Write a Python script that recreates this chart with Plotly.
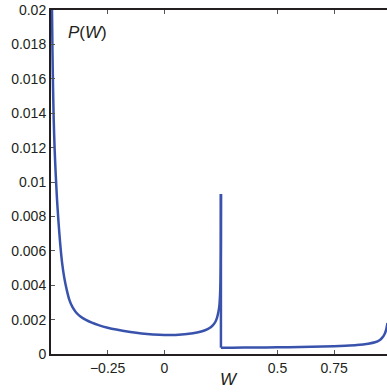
import plotly.graph_objects as go

# P(W) curve
W_vals = [-0.4956, -0.4935, -0.491, -0.488, -0.484, -0.479, -0.4735, -0.467, -0.460, -0.451,
          -0.441, -0.430, -0.419, -0.405, -0.39, -0.37, -0.346, -0.32, -0.29, -0.25,
          -0.212, -0.15, -0.10, -0.05, 0.0, 0.05, 0.10, 0.15, 0.18, 0.20, 0.215,
          0.225, 0.233, 0.239, 0.243, 0.246, 0.248, 0.249, 0.2497, 0.25, 0.25, 0.30,
          0.40, 0.50, 0.60, 0.70, 0.80, 0.85, 0.90, 0.93, 0.95, 0.962, 0.972, 0.979, 0.985]
P_vals = [0.0200, 0.0176, 0.0155, 0.0136, 0.0119, 0.0104, 0.0090, 0.0077, 0.0065, 0.0053,
          0.0044, 0.0037, 0.00315, 0.00272, 0.00243, 0.00218, 0.00198, 0.00182, 0.00168, 0.00153,
          0.00142, 0.00128, 0.00119, 0.00113, 0.00110, 0.00111, 0.00116, 0.00127, 0.00138, 0.00151, 0.00168,
          0.00186, 0.00212, 0.00245, 0.0028, 0.0034, 0.0042, 0.0051, 0.0066, 0.0093, 0.00037, 0.00037,
          0.00038, 0.00039, 0.00041, 0.00043, 0.00048, 0.00052, 0.00060, 0.00068, 0.00080, 0.00095, 0.00115, 0.00140, 0.00180]

x_tickvals = [-0.25, 0, 0.5, 0.75]
x_ticktext = ["\u22120.25", "0", "0.5", "0.75"]
y_tickvals = [0, 0.002, 0.004, 0.006, 0.008, 0.01, 0.012, 0.014, 0.016, 0.018, 0.02]
y_ticktext = ["0", "0.002", "0.004", "0.006", "0.008", "0.01", "0.012", "0.014", "0.016", "0.018", "0.02"]

x_range = [-0.5, 0.983]
y_range = [0, 0.02]

axis_color = "#231f20"
line_color = "#3953ad"
font_family = "Liberation Sans, Arial, sans-serif"

# split at the jump (W = 0.25 appears twice: top of spike, then bottom)
jump = W_vals.index(0.25)

fig = go.Figure()
fig.add_trace(go.Scatter(
    x=W_vals[:jump + 1], y=P_vals[:jump + 1], mode="lines",
    line=dict(color=line_color, width=2.5, shape="spline", smoothing=0.6),
    showlegend=False, hoverinfo="skip",
))
fig.add_trace(go.Scatter(
    x=W_vals[jump:jump + 2], y=P_vals[jump:jump + 2], mode="lines",
    line=dict(color=line_color, width=2.5),
    showlegend=False, hoverinfo="skip",
))
fig.add_trace(go.Scatter(
    x=W_vals[jump + 1:], y=P_vals[jump + 1:], mode="lines",
    line=dict(color=line_color, width=2.5, shape="spline", smoothing=0.6),
    showlegend=False, hoverinfo="skip",
))
# invisible trace to activate top axis
fig.add_trace(go.Scatter(x=[None], y=[None], xaxis="x2", showlegend=False))

fig.update_layout(
    width=387, height=392,
    margin=dict(l=51, r=0, t=10, b=38, autoexpand=False),
    paper_bgcolor="white", plot_bgcolor="white",
    font=dict(family=font_family, size=14, color="#231f20"),
    hovermode=False,
    xaxis=dict(
        range=x_range, tickvals=x_tickvals, ticktext=x_ticktext, automargin=False,
        showgrid=False, zeroline=False, showline=True, linecolor=axis_color, linewidth=2,
        ticks="inside", ticklen=4, tickcolor="#555", tickwidth=1,
        tickfont=dict(size=14, color="#231f20"),
    ),
    xaxis2=dict(
        range=x_range, tickvals=x_tickvals, overlaying="x", side="top", automargin=False,
        showticklabels=False, showgrid=False, zeroline=False,
        showline=True, linecolor=axis_color, linewidth=2,
        ticks="inside", ticklen=4, tickcolor="#555", tickwidth=1,
    ),
    yaxis=dict(
        range=y_range, tickvals=y_tickvals, ticktext=y_ticktext, automargin=False,
        showgrid=False, zeroline=False, showline=True, linecolor=axis_color, linewidth=2,
        ticks="inside", ticklen=4, tickcolor="#555", tickwidth=1,
        tickfont=dict(size=14, color="#231f20"),
    ),
    annotations=[
        dict(text="<i>P</i>(<i>W</i>)", xref="paper", yref="paper", x=0.045, y=0.935,
             xanchor="left", yanchor="middle", showarrow=False,
             font=dict(size=17, color="#231f20", family=font_family)),
        dict(text="<i>W</i>", xref="x", yref="paper", x=0.287, y=-0.075,
             xanchor="center", yanchor="middle", showarrow=False,
             font=dict(size=17, color="#231f20", family=font_family)),
    ],
)

fig.write_html("out.html", config={"displayModeBar": False},
               post_script="document.body.style.margin='0';document.body.style.overflow='hidden';")
